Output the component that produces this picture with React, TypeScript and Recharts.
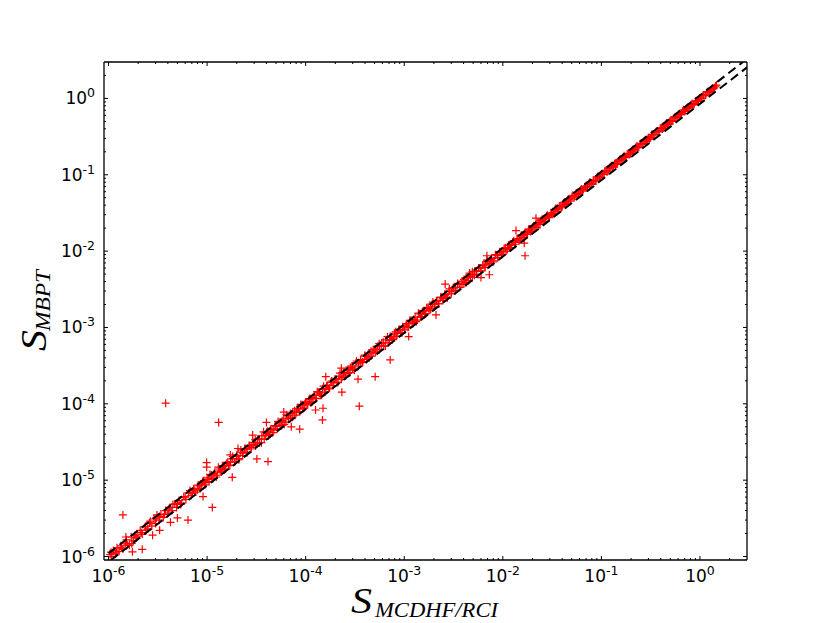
import { ScatterChart, Scatter, XAxis, YAxis } from "recharts";

type Pt = [number, number];

// S_MCDHF/RCI vs S_MBPT, one list per decade of x
const band6: Pt[] = [
  [1.04e-6, 1.06e-6], [1.08e-6, 1.0e-6], [1.12e-6, 1.2e-6], [1.17e-6, 1.08e-6], [1.22e-6, 1.3e-6], [1.28e-6, 1.17e-6],
  [1.33e-6, 1.38e-6], [1.4e-6, 1.25e-6], [1.48e-6, 1.5e-6], [1.55e-6, 1.42e-6], [1.63e-6, 1.4e-6], [1.7e-6, 1.8e-6],
  [1.78e-6, 1.6e-6], [1.85e-6, 1.9e-6], [1.95e-6, 1.85e-6], [2.1e-6, 2.2e-6], [2.2e-6, 1.95e-6], [2.35e-6, 2.45e-6],
  [2.5e-6, 2.3e-6], [2.6e-6, 2.75e-6], [2.75e-6, 2.5e-6], [2.9e-6, 3.1e-6], [3.0e-6, 2.7e-6], [3.1e-6, 3.5e-6],
  [3.25e-6, 3.0e-6], [3.4e-6, 3.6e-6], [3.6e-6, 3.25e-6], [3.8e-6, 4.0e-6], [4.0e-6, 3.7e-6], [4.2e-6, 4.4e-6],
  [4.4e-6, 4.0e-6], [4.7e-6, 4.9e-6], [4.9e-6, 4.4e-6], [5.2e-6, 5.4e-6], [5.5e-6, 5.0e-6], [5.8e-6, 6.1e-6],
  [6.1e-6, 5.6e-6], [6.5e-6, 6.8e-6], [6.9e-6, 6.3e-6], [7.3e-6, 7.7e-6], [7.7e-6, 7.0e-6], [8.1e-6, 8.6e-6],
  [8.5e-6, 7.8e-6], [9.0e-6, 9.6e-6], [9.5e-6, 8.7e-6],
];
const band5: Pt[] = [
  [1.0e-5, 1.07e-5], [1.05e-5, 9.6e-6], [1.1e-5, 1.17e-5], [1.15e-5, 1.05e-5], [1.2e-5, 1.27e-5], [1.27e-5, 1.16e-5],
  [1.33e-5, 1.4e-5], [1.4e-5, 1.28e-5], [1.47e-5, 1.55e-5], [1.54e-5, 1.4e-5], [1.62e-5, 1.72e-5], [1.7e-5, 1.55e-5],
  [1.8e-5, 1.9e-5], [1.9e-5, 1.73e-5], [2.0e-5, 2.12e-5], [2.1e-5, 1.92e-5], [2.2e-5, 2.33e-5], [2.3e-5, 2.1e-5],
  [2.42e-5, 2.57e-5], [2.55e-5, 2.33e-5], [2.68e-5, 2.85e-5], [2.8e-5, 2.56e-5], [2.95e-5, 3.12e-5], [3.1e-5, 2.83e-5],
  [3.25e-5, 3.43e-5], [3.4e-5, 3.1e-5], [3.6e-5, 3.8e-5], [3.8e-5, 3.45e-5], [4.0e-5, 4.25e-5], [4.2e-5, 3.8e-5],
  [4.4e-5, 4.65e-5], [4.65e-5, 4.2e-5], [4.9e-5, 5.2e-5], [5.15e-5, 4.7e-5], [5.4e-5, 5.7e-5], [5.7e-5, 5.2e-5],
  [6.0e-5, 6.35e-5], [6.3e-5, 5.75e-5], [6.6e-5, 7.0e-5], [7.0e-5, 6.4e-5], [7.4e-5, 7.8e-5], [7.8e-5, 7.1e-5],
  [8.2e-5, 8.7e-5], [8.7e-5, 7.9e-5], [9.2e-5, 9.7e-5], [9.6e-5, 8.8e-5],
];
const band4: Pt[] = [
  [1.0e-4, 1.06e-4], [1.05e-4, 9.7e-5], [1.1e-4, 1.17e-4], [1.16e-4, 1.06e-4], [1.22e-4, 1.29e-4], [1.28e-4, 1.17e-4],
  [1.34e-4, 1.42e-4], [1.41e-4, 1.29e-4], [1.48e-4, 1.57e-4], [1.55e-4, 1.42e-4], [1.63e-4, 1.73e-4], [1.71e-4, 1.57e-4],
  [1.8e-4, 1.91e-4], [1.89e-4, 1.73e-4], [1.98e-4, 2.1e-4], [2.08e-4, 1.9e-4], [2.18e-4, 2.31e-4], [2.3e-4, 2.1e-4],
  [2.42e-4, 2.56e-4], [2.54e-4, 2.32e-4], [2.67e-4, 2.82e-4], [2.8e-4, 2.56e-4], [2.95e-4, 3.12e-4], [3.1e-4, 2.84e-4],
  [3.25e-4, 3.44e-4], [3.42e-4, 3.13e-4], [3.6e-4, 3.8e-4], [3.78e-4, 3.46e-4], [3.97e-4, 4.2e-4], [4.17e-4, 3.82e-4],
  [4.38e-4, 4.63e-4], [4.6e-4, 4.22e-4], [4.84e-4, 5.12e-4], [5.08e-4, 4.66e-4], [5.34e-4, 5.65e-4], [5.6e-4, 5.14e-4],
  [5.9e-4, 6.24e-4], [6.2e-4, 5.68e-4], [6.5e-4, 6.88e-4], [6.85e-4, 6.28e-4], [7.2e-4, 7.6e-4], [7.55e-4, 6.93e-4],
  [7.95e-4, 8.4e-4], [8.35e-4, 7.66e-4], [8.8e-4, 9.3e-4], [9.2e-4, 8.45e-4], [9.65e-4, 1.02e-3],
];
const band3: Pt[] = [
  [1.01e-3, 9.3e-4], [1.06e-3, 1.12e-3], [1.11e-3, 1.02e-3], [1.17e-3, 1.23e-3], [1.23e-3, 1.13e-3], [1.29e-3, 1.36e-3],
  [1.36e-3, 1.25e-3], [1.43e-3, 1.51e-3], [1.5e-3, 1.38e-3], [1.57e-3, 1.66e-3], [1.65e-3, 1.52e-3], [1.74e-3, 1.83e-3],
  [1.82e-3, 1.68e-3], [1.92e-3, 2.02e-3], [2.02e-3, 1.86e-3], [2.12e-3, 2.23e-3], [2.22e-3, 2.05e-3], [2.34e-3, 2.46e-3],
  [2.46e-3, 2.26e-3], [2.58e-3, 2.72e-3], [2.71e-3, 2.5e-3], [2.85e-3, 3.0e-3], [3.0e-3, 2.76e-3], [3.15e-3, 3.31e-3],
  [3.31e-3, 3.05e-3], [3.48e-3, 3.66e-3], [3.65e-3, 3.36e-3], [3.84e-3, 4.03e-3], [4.03e-3, 3.72e-3], [4.24e-3, 4.45e-3],
  [4.45e-3, 4.1e-3], [4.68e-3, 4.9e-3], [4.92e-3, 4.53e-3], [5.17e-3, 5.42e-3], [5.43e-3, 5.0e-3], [5.7e-3, 5.98e-3],
  [6.0e-3, 5.53e-3], [6.3e-3, 6.6e-3], [6.62e-3, 6.1e-3], [6.96e-3, 7.3e-3], [7.3e-3, 6.74e-3], [7.68e-3, 8.04e-3],
  [8.07e-3, 7.44e-3], [8.48e-3, 8.88e-3], [8.9e-3, 8.22e-3], [9.35e-3, 9.8e-3], [9.8e-3, 9.07e-3],
];
const band2: Pt[] = [
  [1.03e-2, 1.08e-2], [1.08e-2, 1.0e-2], [1.14e-2, 1.19e-2], [1.2e-2, 1.11e-2], [1.26e-2, 1.32e-2], [1.32e-2, 1.23e-2],
  [1.39e-2, 1.45e-2], [1.46e-2, 1.36e-2], [1.53e-2, 1.6e-2], [1.61e-2, 1.5e-2], [1.69e-2, 1.76e-2], [1.78e-2, 1.66e-2],
  [1.87e-2, 1.95e-2], [1.96e-2, 1.83e-2], [2.06e-2, 2.15e-2], [2.17e-2, 2.03e-2], [2.28e-2, 2.37e-2], [2.39e-2, 2.24e-2],
  [2.51e-2, 2.61e-2], [2.64e-2, 2.47e-2], [2.78e-2, 2.88e-2], [2.92e-2, 2.74e-2], [3.07e-2, 3.18e-2], [3.22e-2, 3.03e-2],
  [3.38e-2, 3.5e-2], [3.56e-2, 3.35e-2], [3.74e-2, 3.87e-2], [3.93e-2, 3.7e-2], [4.13e-2, 4.27e-2], [4.34e-2, 4.09e-2],
  [4.56e-2, 4.71e-2], [4.79e-2, 4.52e-2], [5.03e-2, 5.2e-2], [5.29e-2, 5.0e-2], [5.56e-2, 5.73e-2], [5.84e-2, 5.53e-2],
  [6.14e-2, 6.33e-2], [6.45e-2, 6.12e-2], [6.78e-2, 6.98e-2], [7.12e-2, 6.76e-2], [7.48e-2, 7.7e-2], [7.86e-2, 7.47e-2],
  [8.26e-2, 8.5e-2], [8.68e-2, 8.26e-2], [9.12e-2, 9.37e-2], [9.58e-2, 9.13e-2],
];
const band1: Pt[] = [
  [1.01e-1, 1.03e-1], [1.06e-1, 1.01e-1], [1.11e-1, 1.14e-1], [1.17e-1, 1.12e-1], [1.23e-1, 1.26e-1], [1.29e-1, 1.24e-1],
  [1.36e-1, 1.39e-1], [1.43e-1, 1.37e-1], [1.5e-1, 1.53e-1], [1.58e-1, 1.52e-1], [1.66e-1, 1.69e-1], [1.74e-1, 1.68e-1],
  [1.83e-1, 1.87e-1], [1.92e-1, 1.85e-1], [2.02e-1, 2.06e-1], [2.12e-1, 2.05e-1], [2.23e-1, 2.27e-1], [2.34e-1, 2.26e-1],
  [2.46e-1, 2.51e-1], [2.59e-1, 2.5e-1], [2.72e-1, 2.77e-1], [2.86e-1, 2.76e-1], [3.0e-1, 3.06e-1], [3.16e-1, 3.05e-1],
  [3.32e-1, 3.38e-1], [3.49e-1, 3.37e-1], [3.66e-1, 3.73e-1], [3.85e-1, 3.72e-1], [4.05e-1, 4.12e-1], [4.25e-1, 4.11e-1],
  [4.47e-1, 4.55e-1], [4.7e-1, 4.54e-1], [4.94e-1, 5.03e-1], [5.19e-1, 5.02e-1], [5.45e-1, 5.55e-1], [5.73e-1, 5.54e-1],
  [6.02e-1, 6.13e-1], [6.33e-1, 6.12e-1], [6.65e-1, 6.77e-1], [6.99e-1, 6.76e-1], [7.35e-1, 7.48e-1], [7.72e-1, 7.47e-1],
  [8.12e-1, 8.26e-1], [8.53e-1, 8.25e-1], [8.96e-1, 9.12e-1], [9.42e-1, 9.12e-1],
];
const band0: Pt[] = [
  [0.99, 1.01], [1.04, 1.01], [1.09, 1.11], [1.15, 1.12], [1.21, 1.23], [1.27, 1.24], [1.33, 1.35], [1.4, 1.38], [1.47, 1.49],
  [1.02, 0.99], [1.07, 1.09], [1.13, 1.1], [1.18, 1.2], [1.24, 1.21], [1.3, 1.3], [1.37, 1.34], [1.44, 1.45],
];
const outliers: Pt[] = [
  [3.8e-6, 1.02e-4], [1.31e-5, 5.7e-5], [1.4e-6, 3.5e-6], [1.13e-5, 4.4e-6], [6.4e-6, 3.0e-6], [9.9e-6, 1.7e-5],
  [9.9e-6, 1.48e-5], [1.8e-5, 1.09e-5], [3.2e-5, 1.9e-5], [4.15e-5, 1.75e-5], [4.0e-5, 5.7e-5], [6.0e-5, 7.8e-5],
  [2.2e-6, 1.24e-6], [1.75e-6, 1.15e-6], [2.8e-6, 1.9e-6], [3.3e-6, 2.2e-6], [4.25e-6, 2.8e-6], [1.5e-6, 1.8e-6],
  [2.9e-5, 3.9e-5], [2.06e-5, 2.6e-5], [9.1e-6, 6.1e-6], [5.0e-6, 3.2e-6], [1.48e-4, 6.15e-5], [3.5e-4, 9.3e-5],
  [5.07e-4, 2.27e-4], [7.2e-4, 3.76e-4], [3.4e-4, 2.1e-4], [2.33e-4, 1.42e-4], [1.11e-3, 7.6e-4], [2.6e-3, 3.7e-3],
  [2.1e-3, 1.46e-3], [6.9e-3, 8.7e-3], [7.3e-3, 4.9e-3], [6.0e-3, 4.5e-3], [1.6e-4, 2.27e-4], [2.3e-4, 2.93e-4],
  [1.26e-4, 8.3e-5], [1.5e-4, 8.75e-5], [8.7e-5, 4.65e-5], [7.15e-5, 5.0e-5], [1.36e-2, 1.86e-2], [1.68e-2, 8.7e-3],
  [1.65e-2, 1.27e-2], [2.17e-2, 2.7e-2], [4.6e-3, 5.15e-3], [1.72e-5, 2.14e-5],
];

// second pass over the dense part of the band, mantissas per decade
const fill6X = [1.06, 1.2, 1.36, 1.52, 1.72, 1.9, 2.15, 2.4, 2.65, 3.05, 3.3, 3.7, 4.1, 4.5, 5.0, 5.4, 6.0, 6.7, 7.1, 7.5, 8.0, 8.4, 8.8, 9.3, 9.7];
const fill6Y = [1.14, 1.12, 1.3, 1.65, 1.48, 1.75, 2.05, 2.2, 2.9, 3.2, 3.35, 3.55, 4.2, 4.8, 5.0, 4.8, 6.0, 7.3, 6.7, 7.4, 7.5, 8.4, 9.0, 9.9, 9.3];
const fill5X = [1.02, 1.07, 1.12, 1.18, 1.24, 1.3, 1.36, 1.43, 1.5, 1.58, 1.65, 1.73, 1.82, 1.91, 2.0, 2.1, 2.2, 2.31, 2.42, 2.54, 2.67, 2.8, 2.94, 3.08, 3.24, 3.4, 3.56, 3.74, 3.93, 4.12, 4.32, 4.54, 4.76, 5.0, 5.25, 5.5, 5.78, 6.06, 6.36, 6.68, 7.0, 7.35, 7.72, 8.1, 8.5, 8.92, 9.36, 9.8];
const fill5Y = [1.02, 1.19, 1.04, 1.22, 1.1, 1.48, 1.32, 1.54, 1.37, 1.66, 1.57, 1.73, 2.04, 1.76, 2.04, 1.85, 2.49, 2.26, 2.59, 2.29, 2.78, 2.69, 2.94, 3.39, 3.05, 3.47, 3.1, 4.3, 3.89, 4.37, 3.97, 4.68, 4.52, 5.05, 5.88, 5.12, 6.01, 5.39, 7.19, 6.48, 7.49, 6.69, 8.11, 7.7, 8.5, 9.81, 8.7, 10.0];
const fill4X = [1.03, 1.08, 1.13, 1.19, 1.25, 1.31, 1.38, 1.45, 1.52, 1.6, 1.67, 1.75, 1.84, 1.93, 2.03, 2.13, 2.23, 2.34, 2.45, 2.57, 2.7, 2.84, 2.98, 3.12, 3.28, 3.44, 3.61, 3.79, 3.98, 4.17, 4.38, 4.6, 4.82, 5.06, 5.3, 5.57, 5.85, 6.14, 6.44, 6.76, 7.1, 7.45, 7.82, 8.2, 8.6, 9.03, 9.48, 9.9];
const fill4Y = [1.0, 1.14, 1.03, 1.21, 1.18, 1.44, 1.38, 1.29, 1.7, 1.54, 1.74, 1.61, 1.99, 1.89, 2.09, 1.92, 2.52, 2.22, 2.47, 2.75, 2.51, 2.98, 2.95, 2.75, 3.64, 3.34, 3.68, 3.56, 4.34, 4.17, 3.99, 4.88, 4.63, 5.21, 4.88, 6.13, 5.73, 6.39, 5.73, 7.57, 6.75, 7.52, 7.27, 8.77, 8.34, 9.48, 8.53, 10.1];
const fill3X = [1.04, 1.09, 1.14, 1.2, 1.26, 1.32, 1.39, 1.46, 1.53, 1.61, 1.69, 1.77, 1.86, 1.95, 2.05, 2.15, 2.25, 2.36, 2.48, 2.6, 2.73, 2.87, 3.01, 3.16, 3.32, 3.49, 3.66, 3.85, 4.04, 4.24, 4.45, 4.68, 4.91, 5.15, 5.41, 5.68, 5.97, 6.27, 6.58, 6.91, 7.25, 7.62, 8.0, 8.4, 8.82, 9.26, 9.72];
const fill3Y = [1.07, 1.01, 1.24, 1.16, 1.27, 1.19, 1.54, 1.39, 1.61, 1.48, 1.81, 1.77, 1.75, 2.15, 2.01, 2.21, 2.05, 2.5, 2.38, 2.65, 2.43, 3.21, 2.92, 3.29, 3.09, 3.77, 3.66, 3.66, 4.24, 3.86, 4.58, 4.59, 5.35, 4.84, 5.46, 6.02, 5.49, 6.52, 6.38, 7.6, 6.89, 7.77, 7.2, 8.99, 8.73, 9.72, 9.04];
const fill2X = [1.01, 1.06, 1.11, 1.17, 1.23, 1.29, 1.35, 1.42, 1.49, 1.57, 1.65, 1.73, 1.82, 1.91, 2.01, 2.11, 2.22, 2.33, 2.45, 2.57, 2.7, 2.84, 2.98, 3.13, 3.29, 3.46, 3.64, 3.82, 4.01, 4.21, 4.42, 4.65, 4.88, 5.13, 5.39, 5.66, 5.95, 6.25, 6.57, 6.9, 7.25, 7.62, 8.0, 8.4, 8.83, 9.28, 9.75];
const fill2Y = [0.98, 1.11, 1.05, 1.19, 1.22, 1.37, 1.3, 1.46, 1.4, 1.63, 1.65, 1.68, 1.93, 1.81, 2.05, 2.07, 2.33, 2.24, 2.52, 2.42, 2.73, 2.95, 2.89, 3.13, 3.13, 3.63, 3.57, 3.9, 3.85, 4.38, 4.15, 4.79, 4.83, 5.39, 5.23, 5.72, 5.65, 6.5, 6.44, 7.04, 6.96, 8.0, 7.76, 8.4, 8.3, 9.56, 9.56];
const fill1X = [1.03, 1.08, 1.14, 1.2, 1.26, 1.32, 1.39, 1.46, 1.54, 1.62, 1.7, 1.78, 1.88, 1.97, 2.07, 2.18, 2.29, 2.4, 2.53, 2.65, 2.79, 2.93, 3.08, 3.24, 3.4, 3.58, 3.76, 3.95, 4.15, 4.36, 4.58, 4.82, 5.06, 5.32, 5.59, 5.87, 6.17, 6.49, 6.82, 7.17, 7.53, 7.92, 8.32, 8.74, 9.19, 9.66];
const fill1Y = [1.01, 1.11, 1.09, 1.21, 1.31, 1.28, 1.42, 1.39, 1.59, 1.6, 1.77, 1.73, 1.88, 1.89, 2.13, 2.14, 2.38, 2.3, 2.58, 2.57, 2.87, 2.9, 2.93, 3.37, 3.33, 3.65, 3.65, 4.07, 3.98, 4.4, 4.76, 4.68, 5.16, 5.05, 5.76, 5.75, 6.23, 6.23, 7.09, 6.95, 7.68, 7.76, 8.57, 8.39, 9.28, 9.37];

const upperX = [1e-6, 2.73];
const upperY = [1.1e-6, 3];
const lowerX = [1.06e-6, 3];
const lowerY = [9e-7, 2.55];

const decades = [-6, -5, -4, -3, -2, -1, 0];
const multipliers = [1, 2, 3, 4, 5, 6, 7, 8, 9];
const ticks = decades.flatMap((d) => multipliers.map((m) => Number(`${m}e${d}`))).filter((v) => v < 3);
const domain: [number, number] = [9e-7, 3];

const fillPoints = (xs: number[], ys: number[], unit: number) => xs.map((x, i) => ({ x: x * unit, y: ys[i] * unit }));
const points = [
  ...[...band6, ...band5, ...band4, ...band3, ...band2, ...band1, ...band0, ...outliers].map(([x, y]) => ({ x, y })),
  ...fillPoints(fill6X, fill6Y, 1e-6),
  ...fillPoints(fill5X, fill5Y, 1e-5),
  ...fillPoints(fill4X, fill4Y, 1e-4),
  ...fillPoints(fill3X, fill3Y, 1e-3),
  ...fillPoints(fill2X, fill2Y, 1e-2),
  ...fillPoints(fill1X, fill1Y, 1e-1),
];
const upperLine = upperX.map((x, i) => ({ x, y: upperY[i] }));
const lowerLine = lowerX.map((x, i) => ({ x, y: lowerY[i] }));

const exponent = (v: number) => Math.round(Math.log10(v));
const isMajor = (v: number) => Math.abs(Math.log10(v) - exponent(v)) < 1e-9;

const labelFont = { fontFamily: "DejaVu Sans", fontSize: 17, fill: "#000" };

function tick(side: "bottom" | "top" | "left" | "right") {
  return ({ x, y, payload }: any) => {
    const major = isMajor(payload.value);
    const len = major ? 4 : 2;
    const line =
      side === "bottom" ? [x, y, x, y - len] :
      side === "top" ? [x, y, x, y + len] :
      side === "left" ? [x, y, x + len, y] : [x, y, x - len, y];
    return (
      <g>
        <line x1={line[0]} y1={line[1]} x2={line[2]} y2={line[3]} stroke="#000" strokeWidth={1} />
        {major && side === "bottom" && (
          <text x={x} y={y + 22} textAnchor="middle" {...labelFont}>
            10<tspan dy={-7} fontSize={12.5}>{exponent(payload.value)}</tspan>
          </text>
        )}
        {major && side === "left" && (
          <text x={x - 9} y={y + 6} textAnchor="end" {...labelFont}>
            10<tspan dy={-7} fontSize={12.5}>{exponent(payload.value)}</tspan>
          </text>
        )}
      </g>
    );
  };
}

const Plus = ({ cx, cy }: any) => (
  <path d={`M${cx - 4} ${cy}H${cx + 4}M${cx} ${cy - 4}V${cy + 4}`} stroke="#ff0000" strokeWidth={1.2} fill="none" />
);
const NoDot = () => null;
const dashed = { stroke: "#000", strokeWidth: 2, strokeDasharray: "9 5" };
const mathFont = { fontFamily: "Liberation Serif", fontStyle: "italic", fill: "#000" };

export default function App() {
  return (
    <div style={{ position: "absolute", left: 0, top: 0 }}>
      <ScatterChart width={830} height={623} margin={{ top: 61, right: 82, bottom: 0, left: 0 }}>
        <XAxis
          xAxisId="b" type="number" dataKey="x" scale="log" domain={domain} allowDataOverflow orientation="bottom"
          ticks={ticks} interval={0} height={63} tickSize={0} tickMargin={0} tickLine={false} tick={tick("bottom")}
          axisLine={{ stroke: "#000", strokeWidth: 1.3 }}
        />
        <XAxis
          xAxisId="t" type="number" dataKey="x" scale="log" domain={domain} allowDataOverflow orientation="top"
          ticks={ticks} interval={0} height={1} tickSize={0} tickMargin={0} tickLine={false} tick={tick("top")}
          axisLine={{ stroke: "#000", strokeWidth: 1.3 }}
        />
        <YAxis
          yAxisId="l" type="number" dataKey="y" scale="log" domain={domain} allowDataOverflow orientation="left"
          ticks={ticks} interval={0} width={104} tickSize={0} tickMargin={0} tickLine={false} tick={tick("left")}
          axisLine={{ stroke: "#000", strokeWidth: 1.3 }}
        />
        <YAxis
          yAxisId="r" type="number" dataKey="y" scale="log" domain={domain} allowDataOverflow orientation="right"
          ticks={ticks} interval={0} width={1} tickSize={0} tickMargin={0} tickLine={false} tick={tick("right")}
          axisLine={{ stroke: "#000", strokeWidth: 1.3 }}
        />
        <Scatter xAxisId="b" yAxisId="l" data={points} shape={Plus} isAnimationActive={false} />
        <Scatter xAxisId="b" yAxisId="l" data={upperLine} shape={NoDot} line={dashed} isAnimationActive={false} />
        <Scatter xAxisId="b" yAxisId="l" data={lowerLine} shape={NoDot} line={dashed} isAnimationActive={false} />
        <Scatter xAxisId="t" yAxisId="r" data={upperLine} shape={NoDot} isAnimationActive={false} />
        <text x={351} y={613} fontSize={36} textLength={21} lengthAdjust="spacingAndGlyphs" {...mathFont}>S</text>
        <text x={375} y={617} fontSize={22} textLength={123} lengthAdjust="spacingAndGlyphs" {...mathFont}>MCDHF/RCI</text>
        <text transform="translate(46 351) rotate(-90)" fontSize={36} textLength={21} lengthAdjust="spacingAndGlyphs" {...mathFont}>S</text>
        <text transform="translate(50 331) rotate(-90)" fontSize={22} textLength={61} lengthAdjust="spacingAndGlyphs" {...mathFont}>MBPT</text>
      </ScatterChart>
    </div>
  );
}
